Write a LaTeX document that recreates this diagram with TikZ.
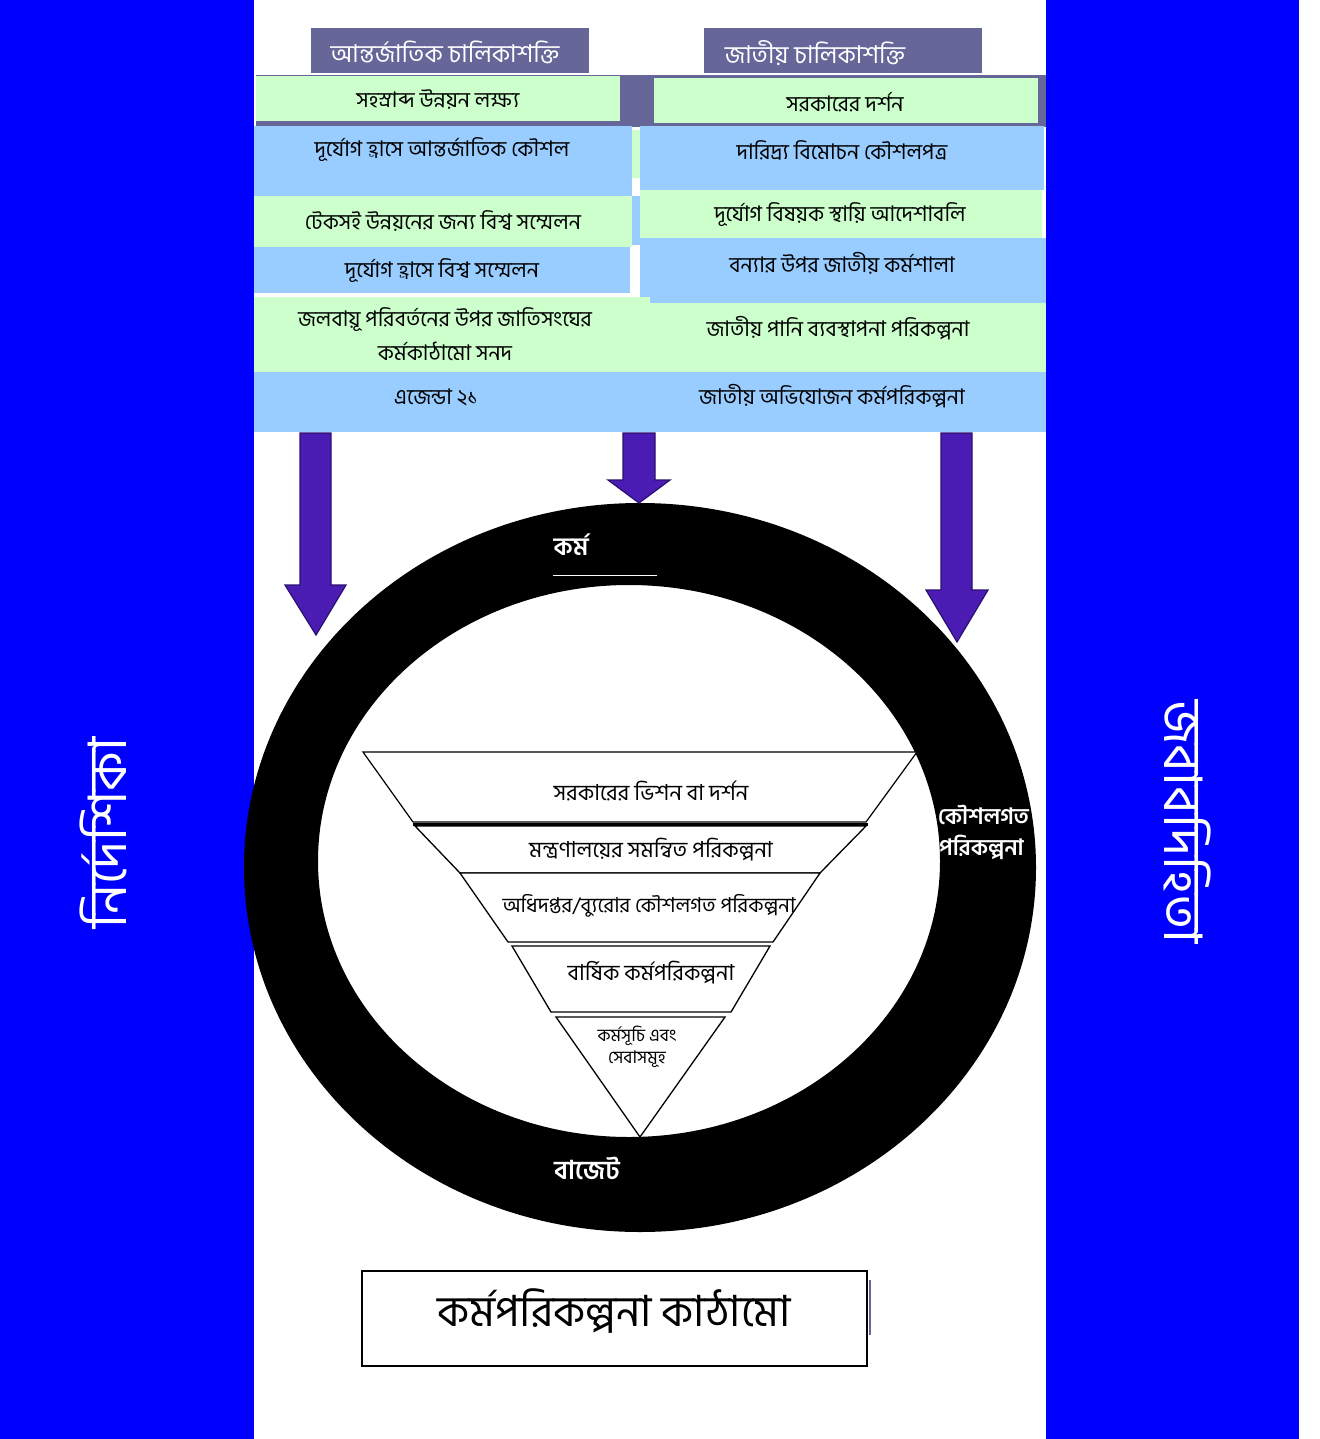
\documentclass[tikz,border=0pt]{standalone}
\usepackage{fontspec}
\newfontfamily\bn[Script=Bengali]{Hind Siliguri}
\definecolor{hdrgray}{HTML}{666699}
\definecolor{lgreen}{HTML}{CCFFCC}
\definecolor{lblue}{HTML}{99CCFF}
\definecolor{sideblue}{HTML}{0000FF}
\definecolor{arrowc}{HTML}{4A1CB4}
\definecolor{arrowline}{HTML}{2A1070}
\tikzset{
  txt/.style={font=\bn\fontsize{21.5}{24}\selectfont, inner sep=0pt, text=black},
  hdrtxt/.style={font=\bn\fontsize{24.5}{28}\selectfont, inner sep=0pt, text=white},
  ringtxt/.style={font=\bn\bfseries\fontsize{22.5}{26}\selectfont, inner sep=0pt, text=white},
  funtxt/.style={font=\bn\fontsize{22}{25}\selectfont, inner sep=0pt, text=black},
  smalltxt/.style={font=\bn\fontsize{17.5}{20}\selectfont, inner sep=0pt, text=black},
  sidetxt/.style={font=\bn\fontsize{53}{58}\selectfont, inner sep=0pt, text=white},
  blockarrow/.style={fill=arrowc, draw=arrowline, line width=1.2pt, line join=miter},
  funline/.style={draw=black, line width=1.3pt, fill=white, line join=miter},
}
\begin{document}
\begin{tikzpicture}[x=1pt,y=-1pt]
\useasboundingbox (0,0) rectangle (1319,1439);
\fill[white] (0,0) rectangle (1319,1439);
% side strips
\fill[sideblue] (0,0) rectangle (254,1439);
\fill[sideblue] (1046,0) rectangle (1299,1439);
\node[sidetxt, rotate=90] (guide) at (103,833) {নির্দেশিকা};
\node[sidetxt, rotate=-90] (account) at (1188,822) {জবাবদিহিতা};
% headers
\fill[hdrgray] (311,28) rectangle (589,73);
\fill[hdrgray] (704,28) rectangle (982,73);
\node[hdrtxt] (h1) at (445,52) {আন্তর্জাতিক চালিকাশক্তি};
\node[hdrtxt] (h2) at (815,53) {জাতীয় চালিকাশক্তি};
% gray band behind first row
\fill[hdrgray] (256,75) rectangle (1046,127);
\fill[lgreen] (256,76) rectangle (620,121);
\fill[lgreen] (654,78) rectangle (1038,123);
% left column
\fill[lblue] (254,126) rectangle (632,196);
\fill[lgreen] (254,196) rectangle (632,247);
\fill[lblue] (254,247) rectangle (630,293);
\fill[lgreen] (632,130) rectangle (640,178);
\fill[lblue] (632,196) rectangle (640,245);
% right column
\fill[lblue] (640,126) rectangle (1044,190);
\fill[lgreen] (640,190) rectangle (1042,238);
\fill[lblue] (640,238) rectangle (1046,303);
% bottom full rows
\fill[lgreen] (254,297) rectangle (650,303);
\fill[lgreen] (254,303) rectangle (1046,372);
\fill[lblue] (254,372) rectangle (1046,432);
% texts of rows
\node[txt] (r1) at (438,100) {সহস্রাব্দ উন্নয়ন লক্ষ্য};
\node[txt] (r2) at (845,102) {সরকারের দর্শন};
\node[txt] (r3) at (442,150) {দূর্যোগ হ্রাসে আন্তর্জাতিক কৌশল};
\node[txt] (r4) at (842,150) {দারিদ্র্য বিমোচন কৌশলপত্র};
\node[txt] (r5) at (443,221) {টেকসই উন্নয়নের জন্য বিশ্ব সম্মেলন};
\node[txt] (r6) at (840,215) {দূর্যোগ বিষয়ক স্থায়ি আদেশাবলি};
\node[txt] (r7) at (442,271) {দূর্যোগ হ্রাসে বিশ্ব সম্মেলন};
\node[txt] (r8) at (842,263) {বন্যার উপর জাতীয় কর্মশালা};
\node[txt] (r9a) at (445,320) {জলবায়ূ পরিবর্তনের উপর জাতিসংঘের};
\node[txt] (r9b) at (445,351) {কর্মকাঠামো সনদ};
\node[txt] (r10) at (838,328) {জাতীয় পানি ব্যবস্থাপনা পরিকল্পনা};
\node[txt] (r11) at (436,397) {এজেন্ডা ২১};
\node[txt] (r12) at (832,396) {জাতীয় অভিযোজন কর্মপরিকল্পনা};
% ring
\fill[black, even odd rule] (640,867.5) ellipse [x radius=396, y radius=364.5]
  (629,861) ellipse [x radius=311, y radius=276];
\node[ringtxt, font=\bn\bfseries\fontsize{25}{28}\selectfont] (karma) at (571,545) {কর্ম};
\draw[white, line width=1pt] (553,575) -- (657,575);
\node[ringtxt, font=\bn\bfseries\fontsize{26}{30}\selectfont] (budget) at (587,1168) {বাজেট};
\node[ringtxt, anchor=west] (kg1) at (938,815) {কৌশলগত};
\node[ringtxt, anchor=west] (kg2) at (939,847) {পরিকল্পনা};
% block arrows
\filldraw[blockarrow] (300,433) -- (331,433) -- (331,585) -- (346,585) -- (316,635) -- (285,585) -- (300,585) -- cycle;
\filldraw[blockarrow] (623,433) -- (655,433) -- (655,480) -- (670,480) -- (639,503) -- (608,480) -- (623,480) -- cycle;
\filldraw[blockarrow] (941,433) -- (972,433) -- (972,590) -- (988,590) -- (957,642) -- (926,590) -- (941,590) -- cycle;
% funnel
\draw[funline, line width=1.2pt] (363,752) -- (917,752) -- (866,822) -- (413,822) -- cycle;
\draw[black, line width=3pt] (413,824) -- (868,824);
\draw[funline] (415,826) -- (866,826) -- (820,873) -- (460,873) -- cycle;
\draw[funline] (460,873) -- (820,873) -- (773,942) -- (508,942) -- cycle;
\draw[funline] (512,946) -- (770,946) -- (731,1012) -- (551,1012) -- cycle;
\draw[funline] (556,1017) -- (725,1017) -- (640,1137) -- cycle;
\node[funtxt] (f1) at (651,791) {সরকারের ভিশন বা দর্শন};
\node[funtxt] (f2) at (651,850) {মন্ত্রণালয়ের সমন্বিত পরিকল্পনা};
\node[funtxt, font=\bn\fontsize{20.5}{24}\selectfont] (f3) at (649,906) {অধিদপ্তর/ব্যুরোর কৌশলগত পরিকল্পনা};
\node[funtxt] (f4) at (651,973) {বার্ষিক কর্মপরিকল্পনা};
\node[smalltxt] (f5a) at (637,1036) {কর্মসূচি এবং};
\node[smalltxt] (f5b) at (637,1059) {সেবাসমূহ};
% title box
\draw[hdrgray, line width=2pt] (870,1280) -- (870,1335);
\draw[black, line width=1.5pt, fill=white] (362,1271) rectangle (867,1366);
\node[font=\bn\fontsize{43}{48}\selectfont, inner sep=0pt] (title) at (614,1311) {কর্মপরিকল্পনা কাঠামো};
\end{tikzpicture}
\end{document}
